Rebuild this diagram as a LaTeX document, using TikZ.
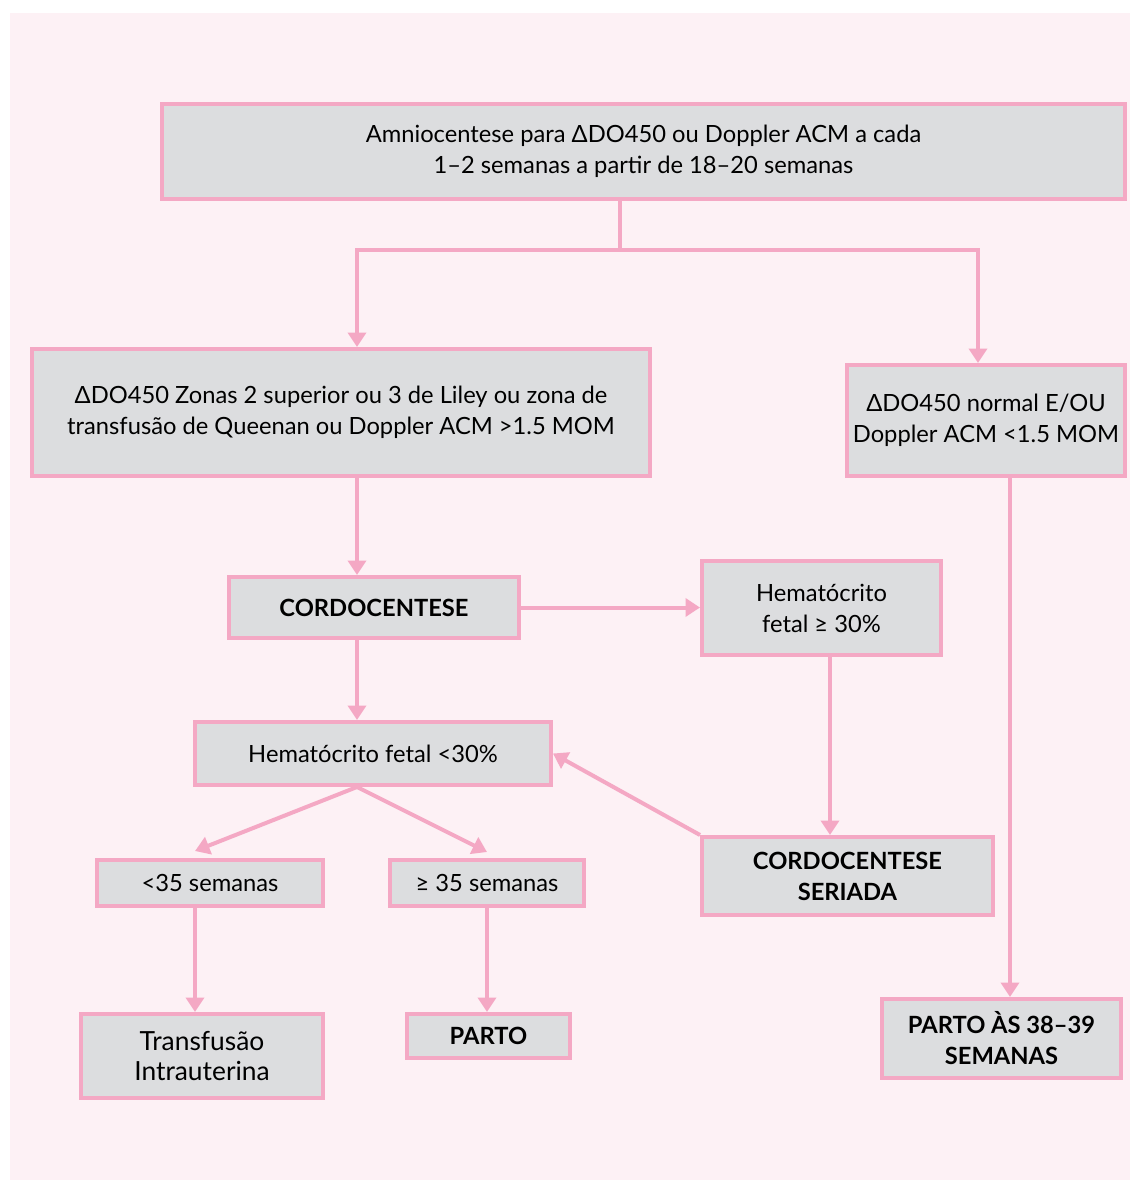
\documentclass[tikz,border=0pt]{standalone}
\usepackage{fontspec}
\setmainfont{Lato}
\usepackage{tikz}
\usetikzlibrary{positioning,arrows.meta}
\usepackage{xcolor}

\definecolor{rosa}{RGB}{244,168,196}
\definecolor{rosafundo}{RGB}{253,241,245}
\definecolor{cinza}{RGB}{220,221,223}

\tikzset{
	caixa/.style={draw=rosa, fill=cinza, line width=0.08cm, align=center, inner sep=0pt, font=\fontsize{13.5}{17.6}\selectfont},
	seta/.style={draw=rosa, line width=0.08cm, -{Triangle[length=0.29cm, width=0.36cm]}},
	linha/.style={draw=rosa, line width=0.08cm}
}

\begin{document}
\begin{tikzpicture}[x=0.02cm, y=-0.02cm]
		\useasboundingbox (0,0) rectangle (1130,1180);
		\fill[rosafundo] (10,13) rectangle (1130,1180);

		% Caixas
		\node[caixa, minimum width=19.26cm, minimum height=1.9cm] (amnio) at (643.5,151.5)
			{Amniocentese para ΔDO450 ou Doppler ACM a cada\\1–2 semanas a partir de 18–20 semanas};
		\node[caixa, minimum width=12.36cm, minimum height=2.54cm] (zonas) at (341,412.5)
			{ΔDO450 Zonas 2 superior ou 3 de Liley ou zona de\\transfusão de Queenan ou Doppler ACM >1.5 MOM};
		\node[caixa, minimum width=5.56cm, minimum height=2.22cm] (normal) at (986,420.5)
			{ΔDO450 normal E/OU\\Doppler ACM <1.5 MOM};
		\node[caixa, minimum width=5.8cm, minimum height=1.22cm] (cordo) at (374,607.5)
			{\textbf{CORDOCENTESE}};
		\node[caixa, minimum width=4.78cm, minimum height=1.88cm] (htAlto) at (821.5,608)
			{Hematócrito\\fetal ≥ 30\%};
		\node[caixa, minimum width=7.12cm, minimum height=1.26cm] (htBaixo) at (373,753.5)
			{Hematócrito fetal <30\%};
		\node[caixa, minimum width=5.82cm, minimum height=1.56cm] (seriada) at (847.5,876)
			{\textbf{CORDOCENTESE}\\\textbf{SERIADA}};
		\node[caixa, minimum width=4.52cm, minimum height=0.92cm] (menos35) at (210,883)
			{<35 semanas};
		\node[caixa, minimum width=3.88cm, minimum height=0.92cm] (mais35) at (487,883)
			{≥ 35 semanas};
		\node[caixa, minimum width=4.84cm, minimum height=1.68cm, font=\fontsize{15}{17.6}\selectfont] (transf) at (202,1056)
			{Transfusão\\Intrauterina};
		\node[caixa, minimum width=3.26cm, minimum height=0.88cm] (parto) at (488.5,1036)
			{\textbf{PARTO}};
		\node[caixa, minimum width=4.78cm, minimum height=1.58cm] (partoFim) at (1001.5,1038.5)
			{\textbf{PARTO ÀS 38–39}\\\textbf{SEMANAS}};

		% Pontos auxiliares
		\coordinate (divisao) at (620,250);
		\coordinate (colA) at (357,250);
		\coordinate (colB) at (978,250);
		\coordinate (colC) at (830,0);
		\coordinate (colD) at (195,0);
		\coordinate (colE) at (1010,0);
		\coordinate (pontaA) at (195,851);
		\coordinate (pontaB) at (487,852);

		% Setas
		\draw[linha] (amnio.south -| divisao) -- (divisao);
		\draw[seta] (divisao) -- (colA) -- (colA |- zonas.north);
		\draw[seta] (divisao) -- (colB) -- (colB |- normal.north);
		\draw[seta] (zonas.south -| colA) -- (cordo.north -| colA);
		\draw[seta] (cordo.south -| colA) -- (htBaixo.north -| colA);
		\draw[seta] (cordo.east) -- (cordo.east -| htAlto.west);
		\draw[seta] (htAlto.south -| colC) -- (seriada.north -| colC);
		\draw[seta] (seriada.north west) -- (htBaixo.east);
		\draw[seta] (htBaixo.south -| colA) -- (pontaA);
		\draw[seta] (htBaixo.south -| colA) -- (pontaB);
		\draw[seta] (menos35.south -| colD) -- (transf.north -| colD);
		\draw[seta] (mais35.south) -- (mais35.south |- parto.north);
		\draw[seta] (normal.south -| colE) -- (partoFim.north -| colE);
	\end{tikzpicture}
\end{document}
